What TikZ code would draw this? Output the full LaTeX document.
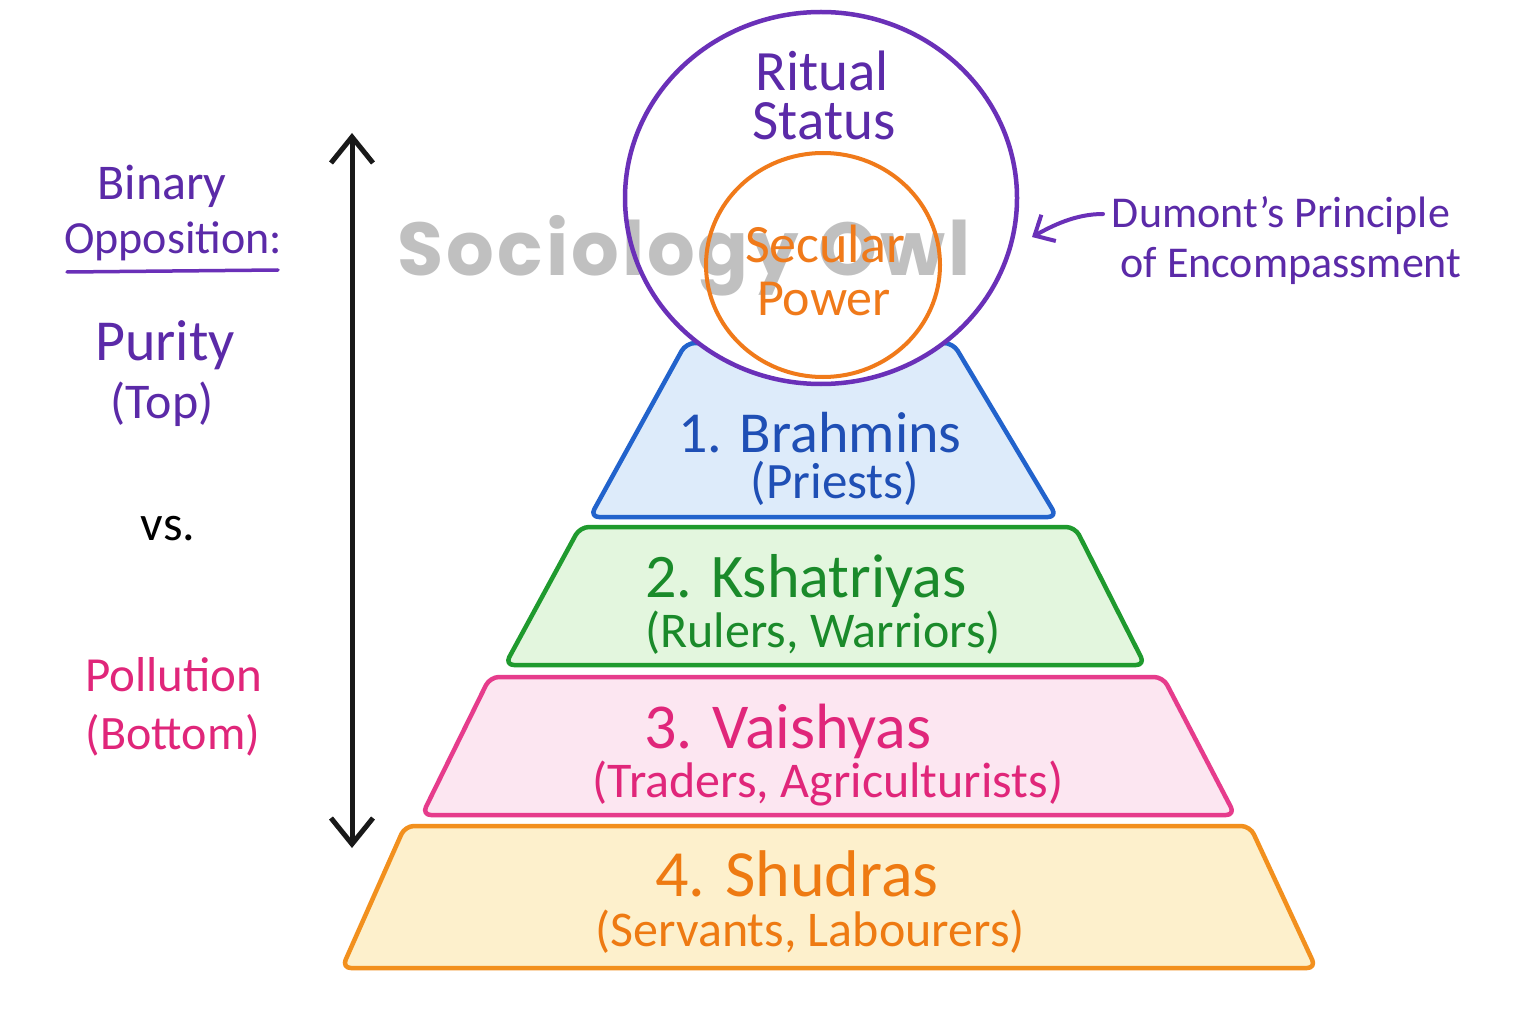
\documentclass[tikz,border=0pt]{standalone}
\usepackage{fontspec}
\setmainfont{Carlito}
\newfontfamily\wmfont{Poppins}[LetterSpace=4]
\usetikzlibrary{arrows.meta,shapes.geometric}
\definecolor{purpleC}{HTML}{6A30B8}
\definecolor{purpleT}{HTML}{5B2AA8}
\definecolor{orangeC}{HTML}{F07A1A}
\definecolor{blueS}{HTML}{2263CC}
\definecolor{blueF}{HTML}{DDEBFA}
\definecolor{blueT}{HTML}{1F4FB5}
\definecolor{greenS}{HTML}{1F9A2E}
\definecolor{greenF}{HTML}{E3F6DE}
\definecolor{greenT}{HTML}{1A8A2A}
\definecolor{pinkS}{HTML}{E63C8C}
\definecolor{pinkF}{HTML}{FCE6F1}
\definecolor{pinkT}{HTML}{E0267A}
\definecolor{orS}{HTML}{F2901E}
\definecolor{orF}{HTML}{FDF0CC}
\definecolor{orT}{HTML}{EE7A12}
\begin{document}
\begin{tikzpicture}[x=1pt,y=-1pt,
  tier/.style={line width=4.5pt, rounded corners=9pt, line join=round},
  lbl/.style={inner sep=0pt, anchor=base, align=center},
  sub/.style={lbl, font=\fontsize{50}{52}\selectfont},
  side/.style={lbl, font=\fontsize{50}{54}\selectfont},
  note/.style={lbl, font=\fontsize{44}{48}\selectfont, text=purpleT},
  outer/.style={ellipse, minimum width=392pt, minimum height=372pt, inner sep=0pt},
  bigbarb/.tip={Straight Barb[length=26pt,width=42pt]},
  smallbarb/.tip={Straight Barb[length=16pt,width=30pt]}
]
\useasboundingbox (0,0) rectangle (1536,1024);
\fill[white] (0,0) rectangle (1536,1024);

% pyramid tiers
\draw[tier, draw=orS, fill=orF] (405,826) -- (1250,826) -- (1316,968) -- (342,968) -- cycle;
\draw[tier, draw=pinkS, fill=pinkF] (490,677) -- (1163,677) -- (1235,815) -- (422,815) -- cycle;
\draw[tier, draw=greenS, fill=greenF] (580,527) -- (1075,527) -- (1145,665) -- (505,665) -- cycle;
\draw[tier, draw=blueS, fill=blueF] (686,343) -- (953,343) -- (1057,517) -- (590,517) -- cycle;

% circle background, watermark, circles
\node[outer, fill=white] (ritualbg) at (821,198) {};
\node[lbl, font=\wmfont\bfseries\fontsize{75}{80}\selectfont, text=black!35, opacity=0.7] (wm) at (684,276) {Sociology Owl};
\node[outer, draw=purpleC, line width=4.5pt] (ritualc) at (821,198) {};
\node[ellipse, draw=orangeC, line width=4pt, minimum width=234pt, minimum height=224pt, inner sep=0pt] (secularc) at (823,265) {};

\node[lbl, font=\fontsize{57}{60}\selectfont, text=purpleT] (rit1) at (822,91) {Ritual};
\node[lbl, font=\fontsize{57}{60}\selectfont, text=purpleT] (rit2) at (824,140) {Status};
\node[lbl, font=\fontsize{54}{56}\selectfont, text=orangeC] (sec1) at (825,262) {Secular};
\node[lbl, font=\fontsize{52}{56}\selectfont, text=orangeC] (sec2) at (824,316) {Power};

% tier labels
\node[lbl, font=\fontsize{58}{60}\selectfont, text=blueT] (b1) at (820,452) {1. Brahmins};
\node[sub, font=\fontsize{51}{52}\selectfont, text=blueT] (b2) at (835,498) {(Priests)};
\node[lbl, font=\fontsize{62}{64}\selectfont, text=greenT] (k1) at (806,597) {2. Kshatriyas};
\node[sub, text=greenT] (k2) at (823,647) {(Rulers, Warriors)};
\node[lbl, font=\fontsize{64}{66}\selectfont, text=pinkT] (v1) at (788,748) {3. Vaishyas};
\node[sub, text=pinkT] (v2) at (828,797) {(Traders, Agriculturists)};
\node[lbl, font=\fontsize{66}{68}\selectfont, text=orT] (s1) at (797,896) {4. Shudras};
\node[sub, text=orT] (s2) at (810,946) {(Servants, Labourers)};

% left side
\node[side, text=purpleT] (bin1) at (162,200) {Binary};
\node[side, text=purpleT, font=\fontsize{46}{50}\selectfont] (bin2) at (173,254) {Opposition:};
\draw[purpleC, line width=3.5pt, line cap=round] (67,272) -- (278,270);
\node[side, text=purpleT, font=\fontsize{58}{60}\selectfont] (pur1) at (165,360) {Purity};
\node[side, text=purpleT] (pur2) at (162,418) {(Top)};
\node[side, text=black] (vs) at (168,540) {vs.};
\node[side, text=pinkT, font=\fontsize{49}{54}\selectfont] (pol1) at (174,691) {Pollution};
\node[side, text=pinkT, font=\fontsize{48}{54}\selectfont] (pol2) at (173,749) {(Bottom)};

\coordinate (atop) at (352,133);
\coordinate (abot) at (352,848);
\draw[line width=5pt, black!90, bigbarb-bigbarb] (atop) -- (abot);

% right note
\node[note] (dum1) at (1281,228) {Dumont’s Principle};
\node[note] (dum2) at (1291,278) {of Encompassment};
\coordinate (dstart) at (1103,214);
\coordinate (dend) at (1032,237);
\draw[purpleC, line width=4pt, line cap=round, -smallbarb] (dstart) .. controls (1075,214) and (1052,226) .. (dend);
\end{tikzpicture}
\end{document}
